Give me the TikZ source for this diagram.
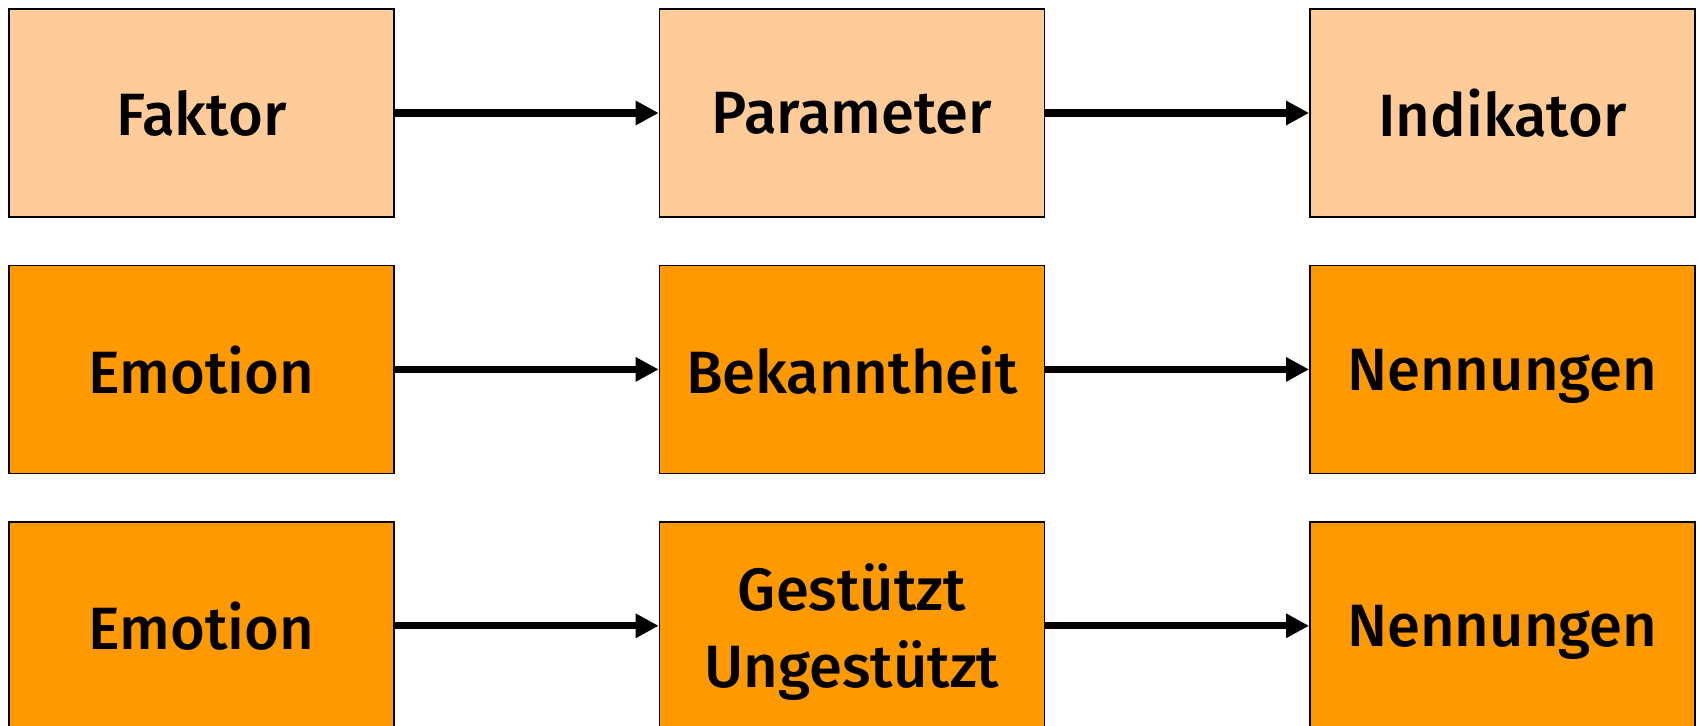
\documentclass[tikz,border=0pt]{standalone}
\usepackage{fontspec}
\setmainfont{Fira Sans}[BoldFont={Fira Sans Medium}]
\definecolor{peach}{RGB}{255,204,153}
\definecolor{deeporange}{RGB}{255,153,0}
\usetikzlibrary{positioning}
\usetikzlibrary{arrows.meta}
\tikzset{
  box/.style={draw, line width=0.8pt, minimum width=7.7cm, minimum height=4.16cm,
    align=center, font=\fontsize{34}{44}\selectfont\bfseries, inner sep=0pt,
    text depth=0pt},
  headbox/.style={box, fill=peach},
  rowbox/.style={box, fill=deeporange},
  flow/.style={-{Triangle[length=0.46cm,width=0.46cm]}, line width=4pt}
}
\begin{document}
\begin{tikzpicture}
  \useasboundingbox (0,0) rectangle (33.96,-14.52);

  % header row
  \node [headbox] (fak) at (4.03,-2.26) {Faktor};
  \node [headbox, right=5.28cm of fak] (par) {Parameter};
  \node [headbox, right=5.28cm of par] (ind) {Indikator};

  % second row
  \node [rowbox, below=0.94cm of fak] (emo) {Emotion};
  \node [rowbox, below=0.94cm of par] (bek) {Bekanntheit};
  \node [rowbox, below=0.94cm of ind] (nen) {Nennungen};

  % third row
  \node [rowbox, below=0.94cm of emo] (emoz) {Emotion};
  \node [rowbox, below=0.94cm of bek] (ges) {Gestützt\\Ungestützt};
  \node [rowbox, below=0.94cm of nen] (nenz) {Nennungen};

  \draw [flow] (fak) -- (par);
  \draw [flow] (par) -- (ind);
  \draw [flow] (emo) -- (bek);
  \draw [flow] (bek) -- (nen);
  \draw [flow] (emoz) -- (ges);
  \draw [flow] (ges) -- (nenz);

\end{tikzpicture}
\end{document}
